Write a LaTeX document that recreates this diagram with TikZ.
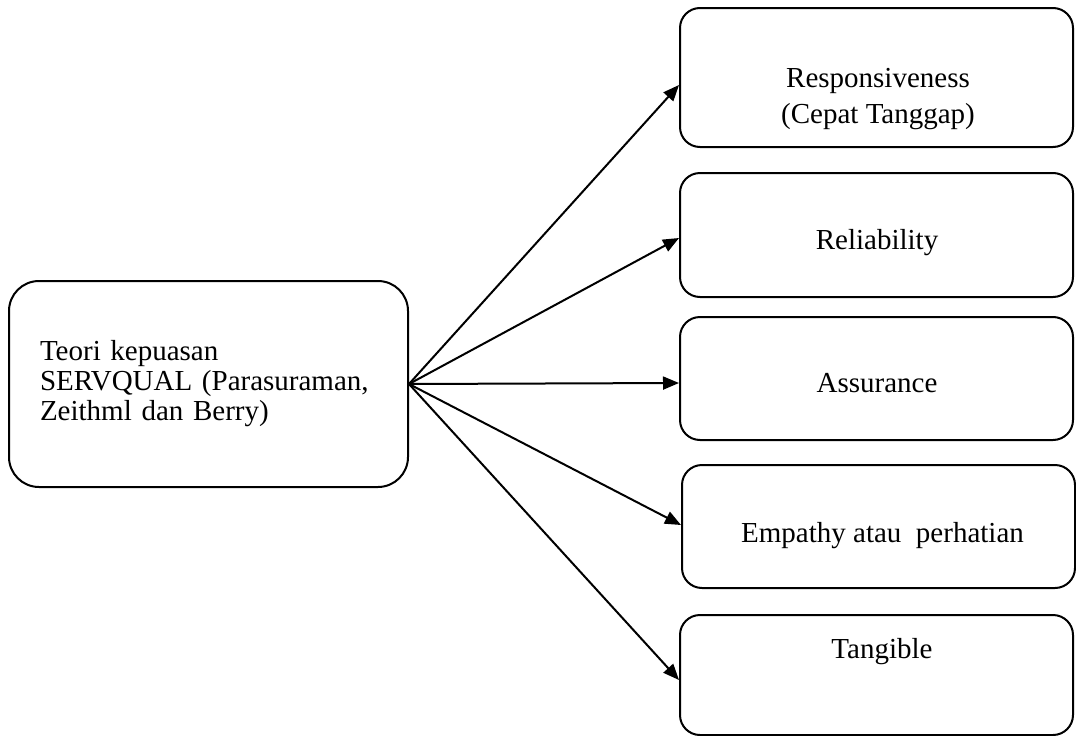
\documentclass[tikz,border=0pt]{standalone}
\usepackage{fontspec}
\setmainfont{Liberation Serif}
\usetikzlibrary{positioning,arrows.meta}

\begin{document}
\begin{tikzpicture}[
    x=1pt, y=-1pt,
    >={Triangle[length=16pt,width=13pt]},
    box/.style={draw, line width=2pt, rounded corners=20pt,
                minimum width=393pt, inner sep=0pt},
    srcbox/.style={draw, line width=2pt, rounded corners=30pt,
                minimum width=399pt, minimum height=206pt,
                text width=337pt, inner xsep=31pt, align=left,
                font=\fontsize{29}{30}\selectfont},
    txt/.style={font=\fontsize{29}{36}\selectfont, align=center,
                anchor=base, inner sep=0pt},
    arr/.style={->, line width=2pt},
]
\useasboundingbox (0,0) rectangle (1076,736);

% source
\node[srcbox] (teori) at (208.5,384)
    {Teori kepuasan\\SERVQUAL (Parasuraman,\\Zeithml dan Berry)};

% dimensions
\node[box, minimum height=139pt] (resp) at (876.5,77.5) {};
\node[box, minimum height=124pt] (rel) at (876.5,235) {};
\node[box, minimum height=123pt] (ass) at (876.5,378.5) {};
\node[box, minimum height=123pt] (emp) at (878.5,526.5) {};
\node[box, minimum height=120pt] (tang) at (876.5,675) {};

\node[txt] (resptxt) at (878,123) {Responsiveness\\(Cepat Tanggap)};
\node[txt] (reltxt) at (877,249) {Reliability};
\node[txt] (asstxt) at (877,392) {Assurance};
\node[txt] (emptxt) at (882.5,542) {Empathy atau\ \ perhatian};
\node[txt] (tangtxt) at (882,658) {Tangible};

\draw[arr] (teori.east) -- ([yshift=-7.5pt]resp.west);
\draw[arr] (teori.east) -- ([yshift=-3pt]rel.west);
\draw[arr] (teori.east) -- ([yshift=-4.5pt]ass.west);
\draw[arr] (teori.east) -- ([yshift=1.5pt]emp.west);
\draw[arr] (teori.east) -- ([yshift=-5pt]tang.west);
\end{tikzpicture}
\end{document}
